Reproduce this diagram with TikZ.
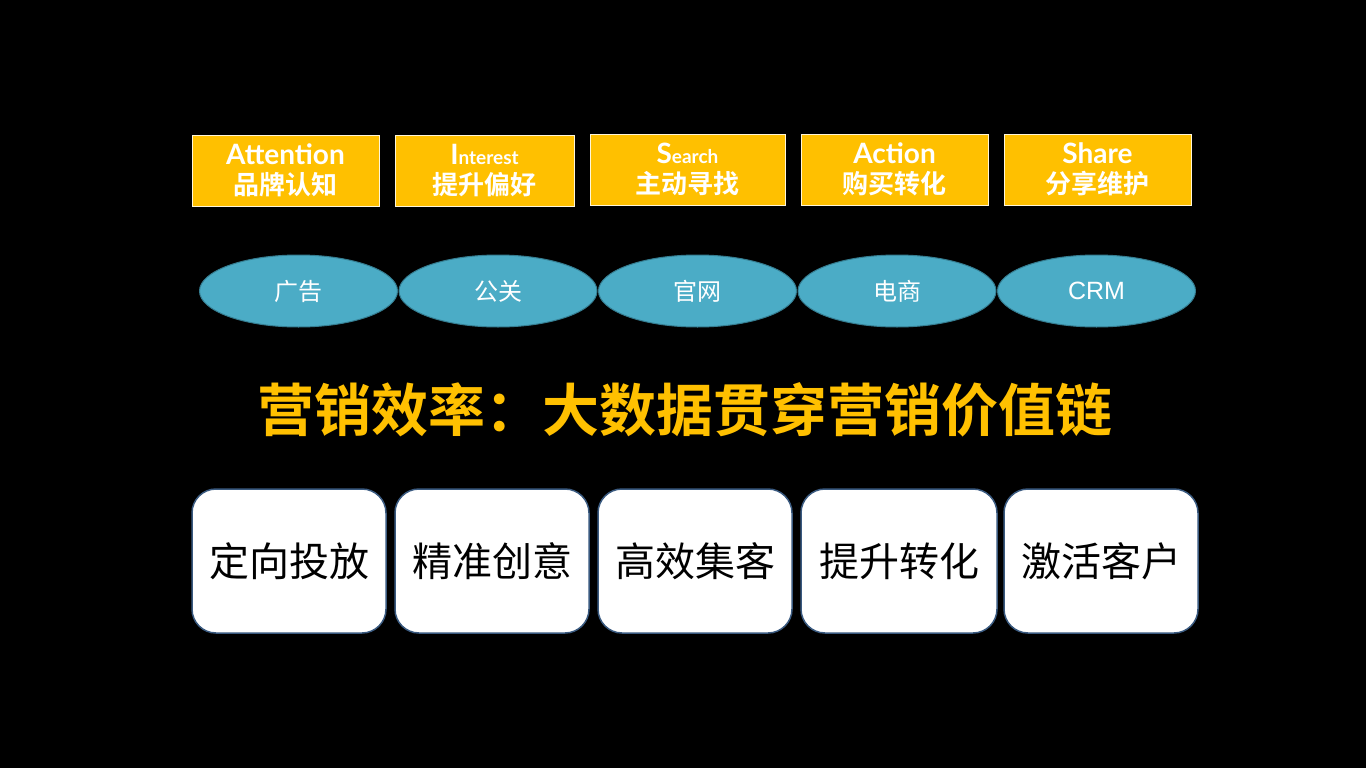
\documentclass[tikz,border=0pt]{standalone}
\usepackage{fontspec}
\setmainfont{Liberation Sans}
\newfontfamily\cjk{Noto Sans CJK SC}
\newfontfamily\cjkb{Noto Sans CJK SC Bold}
\newfontfamily\latob{Lato}[UprightFont=* Bold]
\usetikzlibrary{shapes.geometric}
\definecolor{gold}{HTML}{FFC000}
\definecolor{teal}{HTML}{4BACC6}
\definecolor{tealb}{HTML}{357D91}
\definecolor{navy}{HTML}{3A5A80}
\begin{document}
\begin{tikzpicture}[x=1pt,y=-1pt,
  topbox/.style={draw=white!85!gold,line width=1pt,fill=gold},
  entext/.style={text=white,inner sep=0pt,font=\latob\fontsize{28}{30}\selectfont},
  zhtext/.style={text=white,inner sep=0pt,font=\cjkb\fontsize{26}{28}\selectfont},
  chan/.style={ellipse,draw=tealb,line width=1pt,fill=teal,text=white,minimum width=198pt,minimum height=72pt,inner sep=0pt,font=\cjk\fontsize{24}{28}\selectfont},
  lever/.style={draw=navy,line width=1.5pt,fill=white,rounded corners=24pt}]
\fill[black] (0,0) rectangle (1366,768);
\useasboundingbox (0,0) rectangle (1366,768);
% top boxes
\newcommand\tb[6]{%
  \draw[topbox] (#1,#2) rectangle (#3,#4);
  \node[entext] (#5e) at ({(#1+#3)/2},{#2+19}) {#6};}
\tb{192}{135}{379}{206}{t1}{Attention}
\tb{395}{135}{574}{206}{t2}{I{\fontsize{19}{22}\selectfont nterest}}
\tb{590}{134}{785}{205}{t3}{S{\fontsize{19}{22}\selectfont earch}}
\tb{801}{134}{988}{205}{t4}{Action}
\tb{1004}{134}{1191}{205}{t5}{Share}
\node[zhtext] (t1z) at (285.5,185) {品牌认知};
\node[zhtext] (t2z) at (484.5,185) {提升偏好};
\node[zhtext] (t3z) at (687.5,184) {主动寻找};
\node[zhtext] (t4z) at (894.5,184) {购买转化};
\node[zhtext] (t5z) at (1097.5,184) {分享维护};
% ellipses
\node[chan] (e1) at (298.5,291) {广告};
\node[chan] (e2) at (498,291) {公关};
\node[chan] (e3) at (697.5,291) {官网};
\node[chan] (e4) at (897,291) {电商};
\node[chan,font=\fontsize{25}{28}\selectfont] (e5) at (1096.5,291) {CRM};
% title
\node[text=gold,inner sep=0pt,font=\cjkb\fontsize{57}{60}\selectfont] (title) at (685,410) {营销效率：大数据贯穿营销价值链};
% bottom boxes
\newcommand\bb[6]{%
  \draw[lever] (#1,#2) rectangle (#3,#4);
  \node[text=black,inner sep=0pt,font=\cjk\fontsize{40}{44}\selectfont] (#5) at ({(#1+#3)/2},{(#2+#4)/2}) {#6};}
\bb{192}{489}{386}{633}{b1}{定向投放}
\bb{395}{489}{589}{633}{b2}{精准创意}
\bb{598}{489}{792}{633}{b3}{高效集客}
\bb{801}{489}{997}{633}{b4}{提升转化}
\bb{1004}{489}{1198}{633}{b5}{激活客户}
\end{tikzpicture}
\end{document}
